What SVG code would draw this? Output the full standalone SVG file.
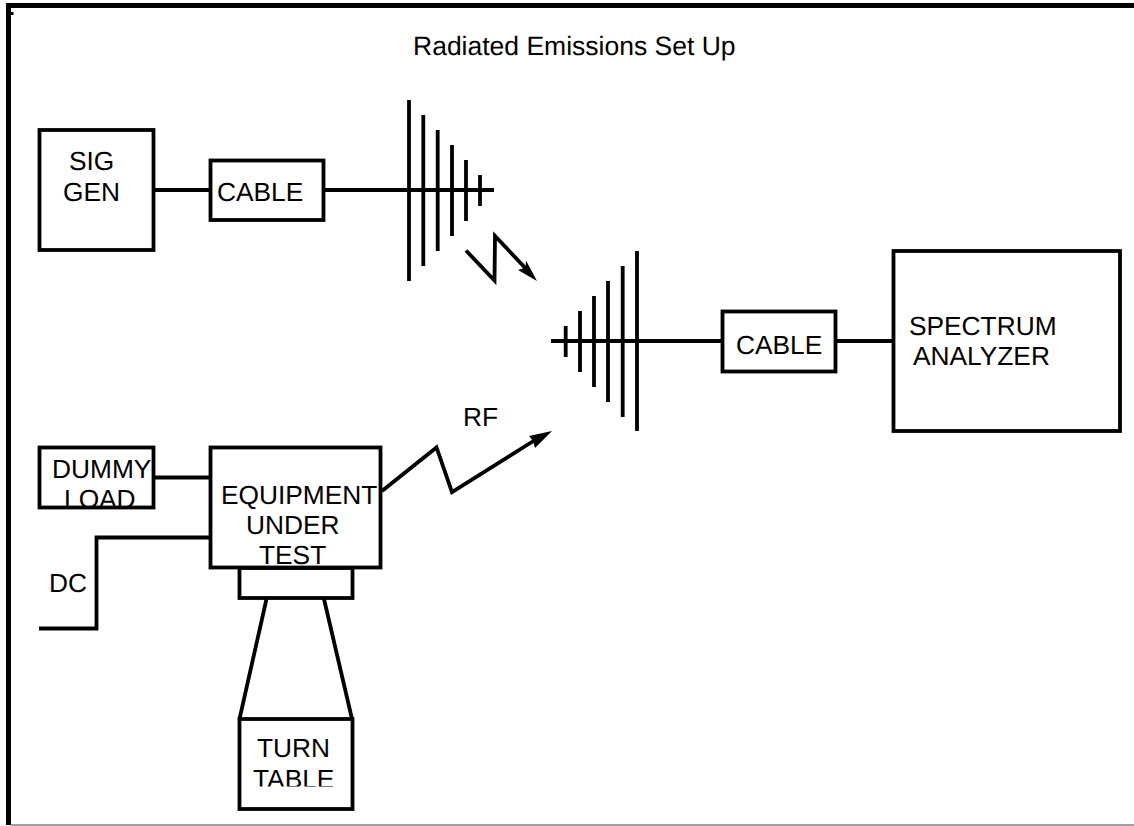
<svg xmlns="http://www.w3.org/2000/svg" width="1134" height="826" viewBox="0 0 1134 826">
<style>
text{font-family:"Liberation Sans",Arial,sans-serif;font-size:26.3px;fill:#000;text-rendering:geometricPrecision}
.title{font-size:26.5px}
.b{fill:none;stroke:#000;stroke-width:3.8}
.l{fill:none;stroke:#000;stroke-width:3.8;stroke-linejoin:miter}
.h{fill:#000;stroke:none}
</style>
<defs>
<clipPath id="cd"><rect x="30" y="440" width="130" height="66"/></clipPath>
<clipPath id="ce"><rect x="205" y="440" width="180" height="126"/></clipPath>
<clipPath id="ct"><rect x="235" y="715" width="120" height="71.500"/></clipPath>
</defs>
<rect width="1134" height="826" fill="#fff"/>
<g id="frame">
<path d="M1134 5.500H8.500V825" fill="none" stroke="#000" stroke-width="5"/>
<rect x="11" y="12" width="2.500" height="3" fill="#000"/>
<path d="M11 825H1134" stroke="#808080" stroke-width="1.500" fill="none"/>
<text class="title" x="413" y="55">Radiated Emissions Set Up</text>
</g>
<g id="connectors">
<path class="l" d="M155 190H209M325 190H494"/>
<path class="l" d="M551 341H721M837 341H893"/>
<path class="l" d="M155 477.500H209"/>
<path class="l" d="M39 628.500H96.500V537.500H209"/>
<path class="l" d="M266.500 599L239.500 719M324 599L352 719"/>
<g id="rf-arrow-1">
<path class="l" d="M466 250.500L494.500 280.500L495 236L530 273"/>
<path class="h" d="M537 281L526 260.500L525.500 267.500L518 270Z"/>
</g>
<g id="rf-arrow-2">
<path class="l" d="M382 491L436.500 447.500L452 492L535 440"/>
<path class="h" d="M552 431L529 436L533 441L535 448Z"/>
</g>
</g>
<g id="antenna-1">
<path class="l" d="M409 100V281M423.300 115V266M437.700 130V251M452 145V236M466 160V221M480 175V206"/>
</g>
<g id="antenna-2">
<path class="l" d="M637 251V431M622.700 266V417M608 281V402M594 296V387M580 311V372M565.700 326V357"/>
</g>
<g id="sig-gen">
<rect class="b" x="39.500" y="130" width="114" height="120"/>
<text x="69" y="170">SIG</text>
<text x="63" y="201">GEN</text>
</g>
<g id="cable-1">
<rect class="b" x="210.500" y="160.500" width="113" height="59.500"/>
<text x="217" y="201">CABLE</text>
</g>
<g id="cable-2">
<rect class="b" x="722.500" y="311.500" width="113" height="60"/>
<text x="736" y="354">CABLE</text>
</g>
<g id="spectrum-analyzer">
<rect class="b" x="893.500" y="251" width="226.500" height="180"/>
<text x="909" y="335">SPECTRUM</text>
<text x="913" y="365">ANALYZER</text>
</g>
<g id="dummy-load">
<text x="52" y="478" clip-path="url(#cd)">DUMMY</text>
<text x="64" y="508" clip-path="url(#cd)">LOAD</text>
<rect class="b" x="39.500" y="447.500" width="114" height="60"/>
</g>
<g id="equipment-under-test">
<text x="221" y="504" clip-path="url(#ce)">EQUIPMENT</text>
<text x="246" y="534" clip-path="url(#ce)">UNDER</text>
<text x="259" y="564" clip-path="url(#ce)">TEST</text>
<rect class="b" x="210.500" y="447.500" width="170" height="120"/>
</g>
<g id="turntable-top">
<rect class="b" x="239.500" y="568" width="113" height="30"/>
</g>
<g id="turn-table">
<rect class="b" x="239.500" y="719" width="113" height="90"/>
<text x="257" y="757">TURN</text>
<text x="253" y="787.500" clip-path="url(#ct)">TABLE</text>
</g>
<g id="labels">
<text x="49" y="592">DC</text>
<text x="463" y="426">RF</text>
</g>
</svg>
